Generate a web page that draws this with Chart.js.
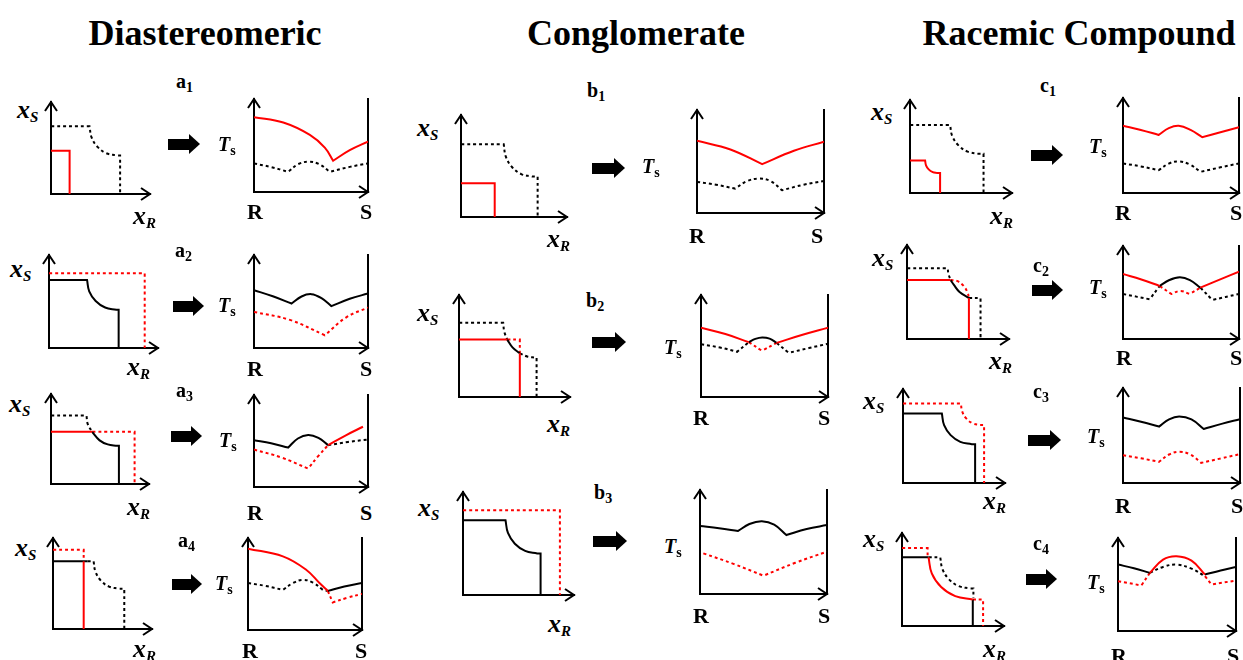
<!DOCTYPE html>
<html>
<head>
<meta charset="utf-8">
<script src="https://cdn.jsdelivr.net/npm/chart.js@4.4.0/dist/chart.umd.min.js"></script>
<style>
html, body { margin: 0; padding: 0; background: #fff; overflow: hidden; }
#page { position: relative; width: 1243px; height: 660px; overflow: hidden; background: #fff;
        font-family: "Liberation Serif", "Times New Roman", serif; color: #000; }
#page canvas { position: absolute; }
.lab { position: absolute; white-space: nowrap; line-height: 1; font-weight: bold; }
.title { position: absolute; width: 420px; text-align: center; font-weight: bold; font-size: 36px; line-height: 1; }
.sub { position: relative; top: 4px; font-size: 15px; }
.sub2 { position: relative; top: 4px; font-size: 14px; font-style: normal; }
.sub3 { position: relative; top: 4px; font-size: 14px; }
.arr { position: absolute; height: 0; }
.arr:before { content: ''; position: absolute; left: 0; top: -5.5px; height: 11px; right: 10px; background: #000; }
.arr:after { content: ''; position: absolute; right: 0; top: -10px; border-left: 11px solid #000;
             border-top: 10px solid transparent; border-bottom: 10px solid transparent; }
</style>
</head>
<body>
<div id="page"></div>
<script>
// Points are [x, y] with 0..1 on each axis (1 = arrow tip).
// A repeated point is a sharp corner, null breaks the line.

// a1
var a1PhaseBlackDot = [[0,.736],[.389,.736],[.389,.736],[.41,.615],[.47,.512],[.559,.443],[.664,.419],[.664,.419],[.698,.419],[.698,.419],[.698,0]];
var a1PhaseRed = [[0,.469],[.188,.469],[.188,.469],[.188,0]];
var a1TsRed = [[0,.805],[.257,.747],[.49,.614],[.621,.477],[.694,.336],[.694,.336],[.84,.45],[1,.542]];
var a1TsBlackDot = [[0,.307],[.15,.268],[.30,.217],[.30,.217],[.39,.301],[.48,.325],[.57,.301],[.665,.217],[.665,.217],[.84,.27],[1,.307]];
// a2
var a2PhaseBlack = [[0,.732],[.349,.732],[.349,.732],[.369,.609],[.428,.505],[.515,.435],[.618,.411],[.618,.411],[.639,.411],[.639,.411],[.639,0]];
var a2PhaseRedDot = [[0,.804],[.878,.804],[.878,.804],[.878,0]];
var a2TsBlack = [[0,.622],[.165,.556],[.33,.478],[.33,.478],[.417,.554],[.504,.579],[.592,.536],[.679,.45],[.679,.45],[.84,.529],[1,.586]];
var a2TsRedDot = [[0,.388],[.315,.302],[.621,.137],[.621,.137],[.81,.33],[1,.435]];
// a3
var a3PhaseBlackDot = [[0,.76],[.362,.76],[.362,.76],[.376,.662],[.42,.58]];
var a3PhaseBlack = [[.42,.58],[.496,.485],[.579,.44],[.676,.424],[.676,.424],[.693,.424],[.693,.424],[.693,0]];
var a3PhaseRed = [[0,.58],[.42,.58]];
var a3PhaseRedDot = [[.42,.58],[.853,.58],[.853,.58],[.853,0]];
var a3TsBlack = [[0,.509],[.15,.475],[.30,.429],[.30,.429],[.385,.527],[.475,.564],[.565,.533],[.65,.455]];
var a3TsRed = [[.65,.455],[.81,.565],[.956,.655]];
var a3TsBlackDot = [[.65,.455],[.825,.49],[1,.516]];
var a3TsRedDot = [[0,.407],[.242,.32],[.475,.2],[.475,.2],[.563,.335],[.65,.455]];
// a4
var a4PhaseRedDot = [[0,.872],[.31,.872],[.31,.872],[.31,.744]];
var a4PhaseRed = [[.31,.744],[.31,0]];
var a4PhaseBlack = [[0,.744],[.35,.744]];
var a4PhaseBlackDot = [[.35,.744],[.41,.744],[.41,.744],[.429,.629],[.484,.531],[.566,.466],[.663,.443],[.663,.443],[.72,.443],[.72,.443],[.72,0]];
var a4TsRed = [[0,.884],[.306,.8],[.51,.655],[.627,.51],[.70,.425]];
var a4TsBlackDot = [[0,.51],[.15,.48],[.306,.436],[.306,.436],[.394,.51],[.48,.545],[.569,.516],[.656,.436],[.656,.436],[.70,.425]];
var a4TsBlack = [[.70,.425],[.845,.473],[1,.51]];
var a4TsRedDot = [[.70,.425],[.743,.30],[.743,.30],[.87,.35],[1,.393]];
// b1
var b1PhaseBlackDot = [[0,.713],[.403,.713],[.403,.713],[.423,.592],[.481,.49],[.568,.421],[.67,.397],[.67,.397],[.723,.397],[.723,.397],[.723,0]];
var b1PhaseRed = [[0,.332],[.318,.332],[.318,.332],[.318,0]];
var b1TsRed = [[0,.701],[.263,.617],[.513,.474],[.513,.474],[.763,.604],[1,.692]];
var b1TsBlackDot = [[0,.302],[.15,.275],[.30,.237],[.30,.237],[.395,.31],[.487,.334],[.579,.31],[.67,.221],[.67,.221],[.84,.275],[1,.312]];
// b2
var b2PhaseBlackDot = [[0,.728],[.398,.728],[.398,.728],[.408,.64],[.434,.563], null, [.548,.428],[.615,.397],[.684,.387],[.684,.387],[.699,.387],[.699,.387],[.699,0]];
var b2PhaseBlack = [[.434,.563],[.482,.487],[.548,.428]];
var b2PhaseRed = [[0,.563],[.434,.563], null, [.548,.428],[.548,0]];
var b2PhaseRedDot = [[.434,.563],[.548,.563],[.548,.563],[.548,.428]];
var b2TsRed = [[0,.679],[.192,.617],[.376,.538], null, [.595,.531],[.8,.61],[1,.679]];
var b2TsBlack = [[.376,.538],[.428,.57],[.482,.584],[.54,.572],[.595,.531]];
var b2TsRedDot = [[.376,.538],[.48,.453],[.48,.453],[.595,.531]];
var b2TsBlackDot = [[0,.518],[.15,.485],[.284,.443],[.284,.443],[.376,.538], null, [.595,.531],[.69,.433],[.69,.433],[.85,.48],[1,.522]];
// b3
var b3PhaseBlack = [[0,.726],[.383,.726],[.383,.726],[.405,.602],[.467,.498],[.56,.428],[.669,.403],[.669,.403],[.699,.403],[.699,.403],[.699,0]];
var b3PhaseRedDot = [[0,.823],[.873,.823],[.873,.823],[.873,0]];
var b3TsBlack = [[0,.654],[.15,.632],[.30,.606],[.30,.606],[.389,.673],[.487,.70],[.584,.667],[.68,.567],[.68,.567],[.84,.625],[1,.663]];
var b3TsRedDot = [[.026,.391],[.263,.29],[.5,.176],[.5,.176],[.75,.3],[1,.407]];
// c1
var c1PhaseBlackDot = [[0,.732],[.393,.732],[.393,.732],[.414,.613],[.475,.512],[.565,.445],[.672,.421],[.672,.421],[.721,.421],[.721,.421],[.721,0]];
var c1PhaseRed = [[0,.35],[.148,.35],[.148,.35],[.157,.298],[.183,.254],[.223,.224],[.269,.214],[.269,.214],[.295,.214],[.295,.214],[.295,0]];
var c1TsRed = [[0,.707],[.154,.664],[.308,.611],[.308,.611],[.395,.682],[.48,.707],[.582,.664],[.683,.587],[.683,.587],[.84,.64],[1,.693]];
var c1TsBlackDot = [[0,.311],[.154,.28],[.308,.24],[.308,.24],[.395,.31],[.48,.332],[.575,.3],[.668,.223],[.668,.223],[.84,.27],[1,.311]];
// c2
var c2PhaseBlackDot = [[0,.752],[.40,.752],[.40,.752],[.405,.70],[.426,.628], null, [.607,.436],[.721,.436],[.721,.436],[.721,0]];
var c2PhaseBlack = [[.426,.628],[.46,.575],[.515,.5],[.607,.436]];
var c2PhaseRed = [[0,.628],[.426,.628], null, [.607,.436],[.607,0]];
var c2PhaseRedDot = [[.426,.628],[.49,.618],[.555,.565],[.595,.49],[.607,.436]];
var c2TsRed = [[0,.699],[.158,.64],[.316,.57], null, [.667,.552],[.833,.638],[1,.724]];
var c2TsBlack = [[.316,.57],[.40,.634],[.49,.663],[.577,.634],[.667,.552]];
var c2TsRedDot = [[.316,.57],[.417,.484],[.417,.484],[.494,.516],[.575,.484],[.575,.484],[.667,.552]];
var c2TsBlackDot = [[0,.484],[.23,.427],[.23,.427],[.316,.57], null, [.667,.552],[.77,.42],[.77,.42],[1,.484]];
// c3
var c3PhaseBlack = [[0,.74],[.381,.74],[.381,.74],[.403,.615],[.467,.509],[.562,.438],[.674,.413],[.674,.413],[.707,.413],[.707,.413],[.707,0]];
var c3PhaseRedDot = [[0,.847],[.567,.847],[.567,.847],[.581,.759],[.622,.684],[.684,.634],[.756,.616],[.756,.616],[.795,.616],[.795,.616],[.795,0]];
var c3TsBlack = [[0,.689],[.154,.645],[.308,.594],[.308,.594],[.394,.67],[.48,.70],[.585,.67],[.69,.569],[.69,.569],[.85,.625],[1,.671]];
var c3TsRedDot = [[0,.293],[.154,.26],[.308,.223],[.308,.223],[.394,.3],[.48,.329],[.575,.3],[.668,.212],[.668,.212],[.84,.26],[1,.304]];
// c4
var c4PhaseRedDot = [[0,.839],[.251,.839],[.251,.839],[.251,.739], null, [.694,.286],[.795,.286],[.795,.286],[.795,0]];
var c4PhaseBlack = [[0,.739],[.26,.739], null, [.694,.286],[.694,0]];
var c4PhaseRed = [[.26,.739],[.292,.566],[.384,.419],[.522,.321],[.694,.286]];
var c4PhaseBlackDot = [[.26,.739],[.375,.739],[.375,.739],[.397,.611],[.461,.502],[.556,.429],[.668,.404],[.668,.404],[.70,.404],[.70,.404],[.70,.30]];
var c4TsBlack = [[0,.714],[.135,.675],[.27,.625], null, [.737,.607],[.87,.65],[1,.689]];
var c4TsRed = [[.27,.625],[.382,.768],[.496,.804],[.623,.757],[.737,.607]];
var c4TsBlackDot = [[.27,.625],[.382,.689],[.496,.714],[.623,.671],[.737,.59]];
var c4TsRedDot = [[0,.536],[.198,.49],[.198,.49],[.27,.625], null, [.737,.59],[.793,.5],[.793,.5],[1,.543]];

var columnTitles = ['Diastereomeric', 'Conglomerate', 'Racemic Compound'];

var RED = '#ff0000', BLACK = '#000000';
var PAD = 12;
var page = document.getElementById('page');

// layout of each panel: chart boxes [left, top, width, height] and label spots
var panels = [
    {tag: 'a', n: 1, phase: [51, 102, 99, 92], ts: [254, 99, 114, 93], arrow: [168, 200, 144], at: [176, 88], xs: [17, 119], xr: [133, 225], tl: [218, 151], rs: [247, 360, 219],
     phaseLines: [[a1PhaseRed, RED, 0], [a1PhaseBlackDot, BLACK, 1]], tsLines: [[a1TsRed, RED, 0], [a1TsBlackDot, BLACK, 1]]},
    {tag: 'a', n: 2, phase: [49, 255, 109, 93], ts: [254, 255, 114, 93], arrow: [173, 204, 306], at: [175, 257], xs: [10, 278], xr: [127, 376], tl: [218, 312], rs: [247, 360, 376],
     phaseLines: [[a2PhaseBlack, BLACK, 0], [a2PhaseRedDot, RED, 1]], tsLines: [[a2TsBlack, BLACK, 0], [a2TsRedDot, RED, 1]]},
    {tag: 'a', n: 3, phase: [51, 394, 98, 90], ts: [254, 395, 114, 92], arrow: [171, 202, 436], at: [176, 397], xs: [9, 413], xr: [127, 516], tl: [219, 447], rs: [247, 360, 520],
     phaseLines: [[a3PhaseRed, RED, 0], [a3PhaseBlack, BLACK, 0], [a3PhaseRedDot, RED, 1], [a3PhaseBlackDot, BLACK, 1]],
     tsLines: [[a3TsRed, RED, 0], [a3TsBlack, BLACK, 0], [a3TsRedDot, RED, 1], [a3TsBlackDot, BLACK, 1]]},
    {tag: 'a', n: 4, phase: [53, 538, 99, 91], ts: [248, 538, 114, 92], arrow: [172, 202, 584], at: [178, 547], xs: [15, 557], xr: [133, 658], tl: [215, 590], rs: [242, 355, 658],
     phaseLines: [[a4PhaseRed, RED, 0], [a4PhaseBlack, BLACK, 0], [a4PhaseRedDot, RED, 1], [a4PhaseBlackDot, BLACK, 1]],
     tsLines: [[a4TsRed, RED, 0], [a4TsBlack, BLACK, 0], [a4TsRedDot, RED, 1], [a4TsBlackDot, BLACK, 1]]},
    {tag: 'b', n: 1, phase: [461, 115, 106, 102], ts: [697, 110, 127, 103], arrow: [592, 625, 168], at: [587, 97], xs: [417, 137], xr: [547, 248], tl: [642, 173], rs: [689, 811, 243],
     phaseLines: [[b1PhaseRed, RED, 0], [b1PhaseBlackDot, BLACK, 1]], tsLines: [[b1TsRed, RED, 0], [b1TsBlackDot, BLACK, 1]]},
    {tag: 'b', n: 2, phase: [459, 295, 111, 102], ts: [701, 295, 127, 102], arrow: [592, 626, 342], at: [586, 307], xs: [417, 322], xr: [547, 433], tl: [664, 354], rs: [693, 818, 425],
     phaseLines: [[b2PhaseRed, RED, 0], [b2PhaseBlack, BLACK, 0], [b2PhaseRedDot, RED, 1], [b2PhaseBlackDot, BLACK, 1]],
     tsLines: [[b2TsRed, RED, 0], [b2TsBlack, BLACK, 0], [b2TsRedDot, RED, 1], [b2TsBlackDot, BLACK, 1]]},
    {tag: 'b', n: 3, phase: [463, 492, 111, 103], ts: [700, 490, 127, 104], arrow: [593, 627, 541], at: [594, 499], xs: [418, 517], xr: [548, 633], tl: [664, 553], rs: [693, 818, 623],
     phaseLines: [[b3PhaseBlack, BLACK, 0], [b3PhaseRedDot, RED, 1]], tsLines: [[b3TsBlack, BLACK, 0], [b3TsRedDot, RED, 1]]},
    {tag: 'c', n: 1, phase: [910, 100, 102, 93], ts: [1123, 98, 116, 95], arrow: [1031, 1063, 155], at: [1040, 92], xs: [871, 121], xr: [990, 225], tl: [1089, 153], rs: [1115, 1230, 220],
     phaseLines: [[c1PhaseRed, RED, 0], [c1PhaseBlackDot, BLACK, 1]], tsLines: [[c1TsRed, RED, 0], [c1TsBlackDot, BLACK, 1]]},
    {tag: 'c', n: 2, phase: [907, 245, 102, 94], ts: [1123, 246, 116, 93], arrow: [1032, 1063, 290], at: [1033, 272], xs: [872, 267], xr: [989, 370], tl: [1089, 294], rs: [1116, 1230, 365],
     phaseLines: [[c2PhaseRed, RED, 0], [c2PhaseBlack, BLACK, 0], [c2PhaseRedDot, RED, 1], [c2PhaseBlackDot, BLACK, 1]],
     tsLines: [[c2TsRed, RED, 0], [c2TsBlack, BLACK, 0], [c2TsRedDot, RED, 1], [c2TsBlackDot, BLACK, 1]]},
    {tag: 'c', n: 3, phase: [903, 389, 102, 94], ts: [1123, 388, 117, 95], arrow: [1028, 1061, 440], at: [1033, 398], xs: [863, 410], xr: [983, 510], tl: [1087, 443], rs: [1115, 1231, 513],
     phaseLines: [[c3PhaseBlack, BLACK, 0], [c3PhaseRedDot, RED, 1]], tsLines: [[c3TsBlack, BLACK, 0], [c3TsRedDot, RED, 1]]},
    {tag: 'c', n: 4, phase: [902, 533, 102, 93], ts: [1118, 538, 118, 93], arrow: [1026, 1057, 579], at: [1033, 550], xs: [863, 548], xr: [983, 658], tl: [1087, 589], rs: [1111, 1227, 663],
     phaseLines: [[c4PhaseRed, RED, 0], [c4PhaseBlack, BLACK, 0], [c4PhaseRedDot, RED, 1], [c4PhaseBlackDot, BLACK, 1]],
     tsLines: [[c4TsRed, RED, 0], [c4TsBlack, BLACK, 0], [c4TsRedDot, RED, 1], [c4TsBlackDot, BLACK, 1]]}
];

// open arrow heads at the top of the y axis and the end of the x axis
var arrowHeads = {
    id: 'arrowHeads',
    afterDraw: function (chart) {
        var a = chart.chartArea, ctx = chart.ctx;
        ctx.save();
        ctx.strokeStyle = BLACK;
        ctx.lineWidth = 2;
        ctx.lineJoin = 'miter';
        ctx.beginPath();
        ctx.moveTo(a.left - 6, a.top + 9);
        ctx.lineTo(a.left, a.top);
        ctx.lineTo(a.left + 6, a.top + 9);
        ctx.moveTo(a.right - 9, a.bottom - 6);
        ctx.lineTo(a.right, a.bottom);
        ctx.lineTo(a.right - 9, a.bottom + 6);
        ctx.stroke();
        ctx.restore();
    }
};

function toPoints(list) {
    return list.map(function (p) {
        return p ? {x: p[0], y: p[1]} : {x: null, y: null};
    });
}

function lineSet(list, color, dotted) {
    return {
        data: toPoints(list),
        showLine: true,
        borderColor: color,
        borderWidth: 2,
        borderDash: dotted ? [3, 3] : [],
        tension: 0.4,
        pointRadius: 0,
        fill: false
    };
}

function axisOpts(pos) {
    return {
        type: 'linear',
        position: pos,
        min: 0,
        max: 1,
        grid: {display: false, drawTicks: false},
        ticks: {display: false},
        border: {display: true, color: BLACK, width: 2}
    };
}

function makeChart(box, lines, rightWall) {
    var canvas = document.createElement('canvas');
    canvas.width = box[2] + 2 * PAD;
    canvas.height = box[3] + 2 * PAD;
    canvas.style.left = (box[0] - PAD) + 'px';
    canvas.style.top = (box[1] - PAD) + 'px';
    page.appendChild(canvas);
    var scales = {x: axisOpts('bottom'), y: axisOpts('left')};
    if (rightWall) {
        scales.y2 = axisOpts('right');
    }
    new Chart(canvas.getContext('2d'), {
        type: 'scatter',
        data: {
            datasets: lines.map(function (l) { return lineSet(l[0], l[1], l[2]); })
        },
        options: {
            responsive: false,
            animation: false,
            events: [],
            layout: {padding: PAD},
            plugins: {legend: {display: false}, tooltip: {enabled: false}},
            scales: scales
        },
        plugins: [arrowHeads]
    });
}

function addText(html, left, baseline, size) {
    var el = document.createElement('div');
    el.className = 'lab';
    el.innerHTML = html;
    el.style.left = left + 'px';
    el.style.top = (baseline - 0.8375 * size) + 'px';
    el.style.fontSize = size + 'px';
    page.appendChild(el);
}

function addArrow(a) {
    var el = document.createElement('div');
    el.className = 'arr';
    el.style.left = a[0] + 'px';
    el.style.top = a[2] + 'px';
    el.style.width = (a[1] - a[0]) + 'px';
    page.appendChild(el);
}

// column titles
[205, 636, 1079].forEach(function (cx, i) {
    var el = document.createElement('div');
    el.className = 'title';
    el.textContent = columnTitles[i];
    el.style.left = (cx - 210) + 'px';
    el.style.top = (45 - 0.8375 * 36) + 'px';
    page.appendChild(el);
});

panels.forEach(function (p) {
    makeChart(p.phase, p.phaseLines, false);
    makeChart(p.ts, p.tsLines, true);
    addArrow(p.arrow);
    addText(p.tag + '<span class="sub3">' + p.n + '</span>', p.at[0], p.at[1], 20);
    addText('<i>x</i><i class="sub">S</i>', p.xs[0], p.xs[1], 26);
    addText('<i>x</i><i class="sub">R</i>', p.xr[0], p.xr[1], 26);
    addText('<i>T</i><span class="sub2">s</span>', p.tl[0], p.tl[1], 20);
    addText('R', p.rs[0], p.rs[2], 22);
    addText('S', p.rs[1], p.rs[2], 22);
});
</script>
</body>
</html>
